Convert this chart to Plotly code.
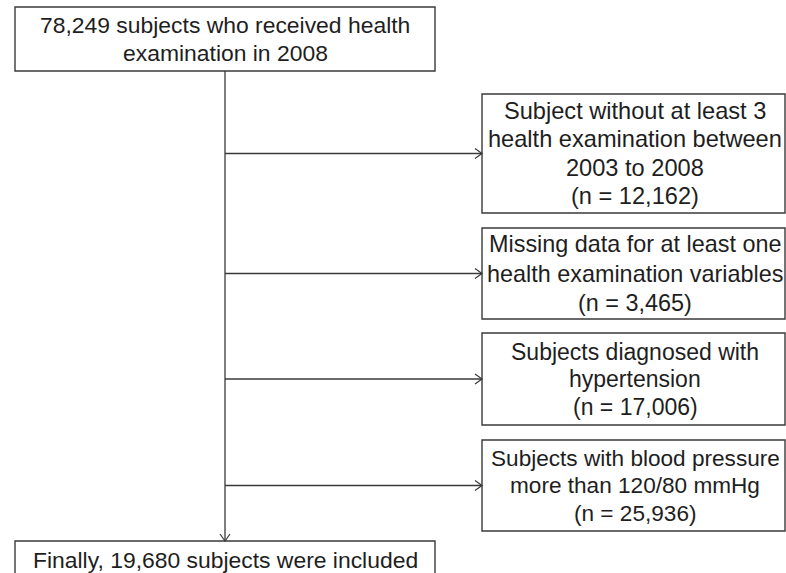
import plotly.graph_objects as go

# ---- data ----
total_n = 78249
start_label = ["subjects who received health", "examination in 2008"]
exclusion_labels = [
    ["Subject without at least 3", "health examination between", "2003 to 2008"],
    ["Missing data for at least one", "health examination variables"],
    ["Subjects diagnosed with", "hypertension"],
    ["Subjects with blood pressure", "more than 120/80 mmHg"],
]
exclusion_n = [12162, 3465, 17006, 25936]
final_n = 19680

# ---- layout (pixel coordinates on a 786x573 canvas) ----
W, H = 786, 573
main_x0, main_x1 = 15, 435
spine_x = 225
top_box = (7, 71)
final_box = (541, 578)
excl_x0, excl_x1 = 482, 785
excl_text_x = 635
excl_boxes = [(94, 213), (228, 319), (333, 425), (440, 531)]
excl_fs = [23.6, 23.4, 23.0, 22.6]
excl_ls = [28.5, 29.5, 27.5, 27.5]
main_fs = 22.9

LINE = "#3a3a3a"
TXT = "#1e1e1e"
FONT = "Liberation Sans, Arial, Helvetica, sans-serif"

fig = go.Figure()
shapes = []
annots = []

def box(x0, x1, y0, y1):
    shapes.append(dict(type="rect", xref="x", yref="y", x0=x0, x1=x1, y0=y0, y1=y1,
                       line=dict(color=LINE, width=1.4), fillcolor="rgba(0,0,0,0)", layer="above"))

def line(x0, y0, x1, y1):
    shapes.append(dict(type="line", xref="x", yref="y", x0=x0, y0=y0, x1=x1, y1=y1,
                       line=dict(color=LINE, width=1.3)))

def chevron_right(x, y, l=7, h=5):
    shapes.append(dict(type="path", xref="x", yref="y",
                       path=f"M {x-l},{y-h} L {x},{y} L {x-l},{y+h}",
                       line=dict(color=LINE, width=1.2)))

def chevron_down(x, y, l=7, h=5):
    shapes.append(dict(type="path", xref="x", yref="y",
                       path=f"M {x-h},{y-l} L {x},{y} L {x+h},{y-l}",
                       line=dict(color=LINE, width=1.2)))

def text_lines(x, yc, lines, fs, ls):
    n = len(lines)
    for i, s in enumerate(lines):
        y = yc + (i - (n - 1) / 2) * ls
        annots.append(dict(x=x, y=y, xref="x", yref="y", text=s, showarrow=False,
                           xanchor="center", yanchor="middle", align="center",
                           font=dict(family=FONT, size=fs, color=TXT)))

# spine
line(spine_x, top_box[1], spine_x, final_box[0])
chevron_down(spine_x, final_box[0])

# top box
box(main_x0, main_x1, *top_box)
top_lines = [f"{total_n:,} {start_label[0]}"] + start_label[1:]
text_lines((main_x0 + main_x1) / 2, sum(top_box) / 2, top_lines, main_fs, 28)

# exclusion boxes
for lab, n, (y0, y1), fs, ls in zip(exclusion_labels, exclusion_n, excl_boxes, excl_fs, excl_ls):
    yc = (y0 + y1) / 2
    line(spine_x, yc, excl_x0, yc)
    chevron_right(excl_x0, yc)
    box(excl_x0, excl_x1, y0, y1)
    text_lines(excl_text_x, yc, lab + [f"(n = {n:,})"], fs, ls)

# final box
box(main_x0, main_x1, *final_box)
text_lines((main_x0 + main_x1) / 2, sum(final_box) / 2, [f"Finally, {final_n:,} subjects were included"], main_fs, 28)

fig.update_layout(
    width=W, height=H, margin=dict(l=0, r=0, t=0, b=0),
    paper_bgcolor="white", plot_bgcolor="white",
    xaxis=dict(range=[0, W], visible=False, fixedrange=True),
    yaxis=dict(range=[H, 0], visible=False, fixedrange=True),
    shapes=shapes, annotations=annots, showlegend=False,
)
fig.write_html("out.html", config={"displayModeBar": False},
               post_script="document.body.style.margin='0px';document.body.style.overflow='hidden';")
